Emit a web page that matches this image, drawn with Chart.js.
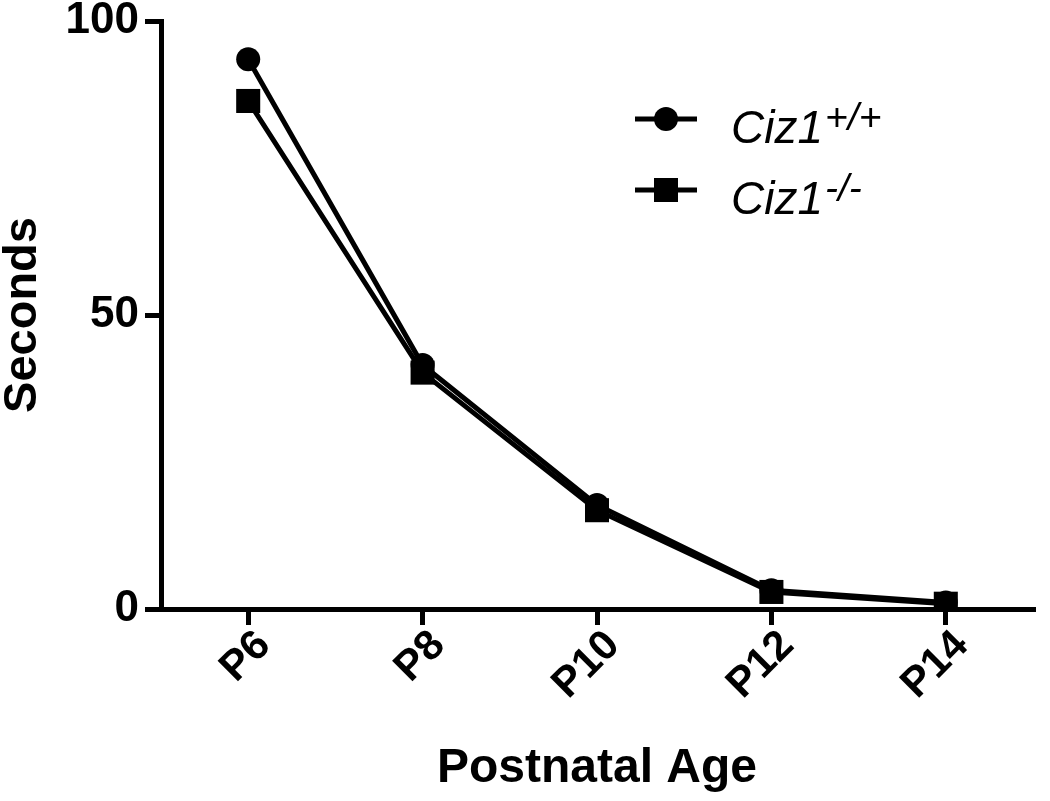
<!DOCTYPE html>
<html>
<head>
<meta charset="utf-8">
<title>Postnatal Age</title>
<script src="https://cdn.jsdelivr.net/npm/chart.js@4.4.1/dist/chart.umd.min.js"></script>
<style>
    html, body { margin: 0; padding: 0; background: #ffffff; }
    #wrap { width: 1050px; height: 801px; }
</style>
</head>
<body>
<div id="wrap"><canvas id="ageChart" width="1050" height="801"></canvas></div>
<script>
// Postnatal age in days, and how each one is labelled
const ages = [6, 8, 10, 12, 14];
const ageLabels = ['P6', 'P8', 'P10', 'P12', 'P14'];

// Genotypes (superscript part of the legend)
const genotypes = ['+/+', '-/-'];

// Seconds
const wildType = [93.5, 41.5, 17.7, 3.2, 1.1];   // Ciz1 +/+
const knockOut = [86.4, 40.2, 16.8, 2.9, 0.9];   // Ciz1 -/-

// y axis ticks
const secondTicks = [0, 50, 100];

const FONT = '"Liberation Sans", Arial, Helvetica, sans-serif';
Chart.defaults.font.family = FONT;
Chart.defaults.color = '#000000';

function toPoints(values) {
    return ages.map((a, i) => ({ x: a, y: values[i] }));
}

// ── Legend with italic gene name and superscript genotype ──
const genotypeLegend = {
    id: 'genotypeLegend',
    afterDraw(chart) {
        const ctx = chart.ctx;
        const rowsY = [119, 190];
        ctx.save();
        chart.data.datasets.forEach((ds, i) => {
            const y = rowsY[i];
            // line sample
            ctx.strokeStyle = '#000';
            ctx.lineWidth = 5;
            ctx.beginPath();
            ctx.moveTo(635, y);
            ctx.lineTo(697, y);
            ctx.stroke();
            // marker
            ctx.fillStyle = '#000';
            if (ds.pointStyle === 'circle') {
                ctx.beginPath();
                ctx.arc(666, y, 12, 0, Math.PI * 2);
                ctx.fill();
            } else {
                ctx.fillRect(654, y - 12, 24, 24);
            }
            // text
            ctx.textBaseline = 'alphabetic';
            ctx.textAlign = 'left';
            ctx.font = 'italic 46px ' + FONT;
            ctx.fillText('Ciz1', 731, y + 24);
            const w = ctx.measureText('Ciz1').width;
            ctx.font = 'italic 39px ' + FONT;
            ctx.fillText(ds.genotype, 731 + w + 2, y + 11);
        });
        ctx.restore();
    }
};

const axisColor = '#000000';

new Chart(document.getElementById('ageChart'), {
    type: 'line',
    data: {
        datasets: [{
            label: 'Ciz1' + genotypes[0],
            genotype: genotypes[0],
            data: toPoints(wildType),
            borderColor: '#000',
            backgroundColor: '#000',
            borderWidth: 5,
            pointStyle: 'circle',
            pointRadius: 12,
            pointHoverRadius: 12,
            pointBorderWidth: 0,
            order: 2
        }, {
            label: 'Ciz1' + genotypes[1],
            genotype: genotypes[1],
            data: toPoints(knockOut),
            borderColor: '#000',
            backgroundColor: '#000',
            borderWidth: 5,
            pointStyle: 'rect',
            pointRadius: 17,
            pointHoverRadius: 17,
            pointBorderWidth: 0,
            order: 1
        }]
    },
    options: {
        responsive: false,
        animation: false,
        layout: { padding: { top: 21, right: 4, bottom: 0, left: 0 } },
        plugins: {
            legend: { display: false },
            tooltip: { enabled: false }
        },
        scales: {
            x: {
                type: 'linear',
                min: 5,
                max: 15,
                afterBuildTicks(scale) {
                    scale.ticks = ages.map(v => ({ value: v }));
                },
                afterFit(scale) {
                    scale.height = 192;
                    scale.paddingLeft = 0;
                    scale.paddingRight = 0;
                },
                ticks: {
                    autoSkip: false,
                    minRotation: 45,
                    maxRotation: 45,
                    padding: -4,
                    labelOffset: 16,
                    color: '#000',
                    font: { size: 42, weight: 'bold' },
                    callback: (v) => ageLabels[ages.indexOf(v)]
                },
                grid: {
                    drawOnChartArea: false,
                    drawTicks: true,
                    tickLength: 16,
                    lineWidth: 5,
                    color: axisColor
                },
                border: { display: true, width: 5, color: axisColor },
                title: {
                    display: true,
                    text: 'Postnatal Age',
                    color: '#000',
                    font: { size: 48, weight: 'bold', lineHeight: 1 },
                    padding: { top: 0, bottom: 8 }
                }
            },
            y: {
                min: 0,
                max: 100,
                afterBuildTicks(scale) {
                    scale.ticks = secondTicks.map(v => ({ value: v }));
                },
                afterFit(scale) {
                    scale.width = 161;
                    scale.paddingTop = 0;
                    scale.paddingBottom = 0;
                },
                ticks: {
                    padding: 6,
                    color: '#000',
                    font: { size: 44, weight: 'bold', lineHeight: 1 }
                },
                grid: {
                    drawOnChartArea: false,
                    drawTicks: true,
                    tickLength: 16,
                    lineWidth: 5,
                    color: axisColor
                },
                border: { display: true, width: 5, color: axisColor },
                title: {
                    display: true,
                    text: 'Seconds',
                    color: '#000',
                    font: { size: 47, weight: 'bold', lineHeight: 1 },
                    padding: 0
                }
            }
        }
    },
    plugins: [genotypeLegend]
});
</script>
</body>
</html>
